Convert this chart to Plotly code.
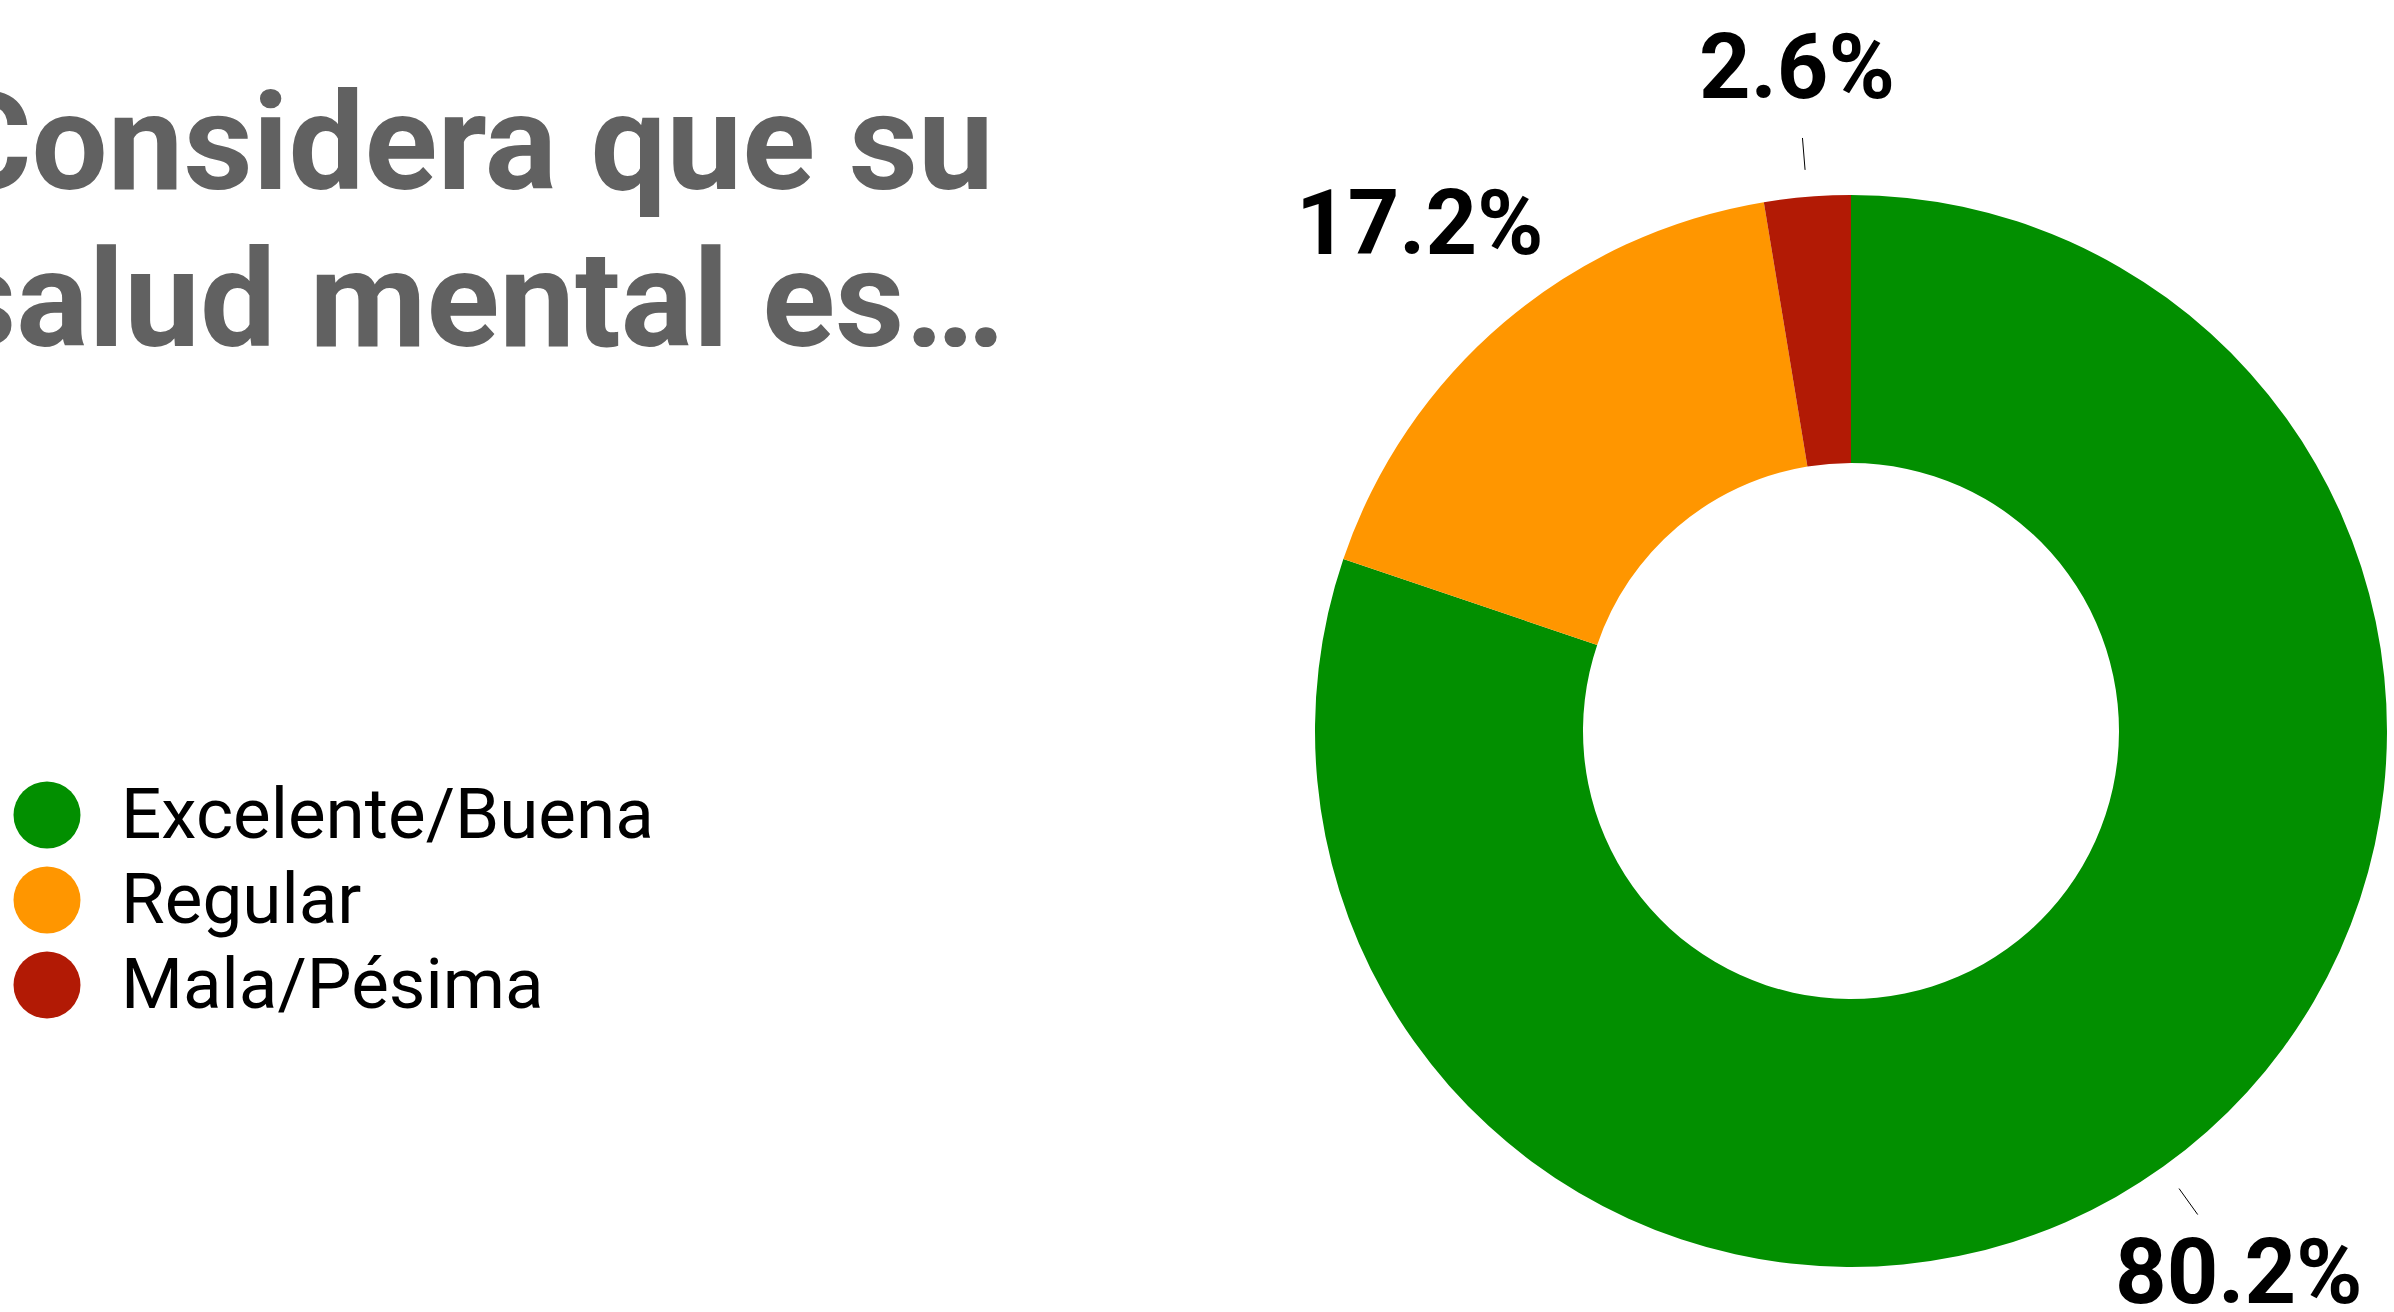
import math
import plotly.graph_objects as go

# Survey answers and their shares (%)
categories = ["Excelente/Buena", "Regular", "Mala/Pésima"]
shares = [80.2, 17.2, 2.6]
title_lines = ["¿Considera que su", "salud mental es…"]

colors = ["#028f00", "#ff9600", "#b21a05"]
leader = [True, False, True]

W, H = 2394, 1312
CX, CY, R = 1851, 731, 536          # donut centre / outer radius (px)
R_TEXT, R_L0, R_L1 = 666, 563, 595  # label radius, leader line span

fig = go.Figure()

# Donut
fig.add_trace(go.Pie(
    labels=categories, values=shares, hole=0.5, sort=False,
    direction="clockwise", rotation=0,
    marker=dict(colors=colors, line=dict(width=0)),
    textinfo="none", hoverinfo="label+percent", showlegend=False,
    domain=dict(x=[(CX - R) / W, (CX + R) / W],
                y=[1 - (CY + R) / H, 1 - (CY - R) / H]),
))

# Custom legend: big round swatches
rows = list(range(len(categories)))
fig.add_trace(go.Scatter(
    x=[0] * len(rows), y=rows, mode="markers",
    marker=dict(size=67, color=colors, line=dict(width=0)),
    hoverinfo="skip", showlegend=False,
))


def to_paper(px, py):
    return px / W, 1 - py / H


annotations = []
shapes = []

# Legend labels next to the swatches
for row, name in zip(rows, categories):
    annotations.append(dict(
        x=1, y=row, xref="x", yref="y", showarrow=False, text=name,
        xanchor="left", yanchor="middle", yshift=2,
        font=dict(family="Roboto", size=71, color="#000000"),
    ))

# Percentage labels around the ring
total = sum(shares)
cum = 0.0
for v, lead in zip(shares, leader):
    theta = (cum + v / 2) / total * 2 * math.pi
    cum += v
    s, c = math.sin(theta), math.cos(theta)
    tx, ty = to_paper(CX + R_TEXT * s, CY - R_TEXT * c)
    annotations.append(dict(
        x=tx, y=ty, xref="paper", yref="paper", showarrow=False,
        text=f"{v:.1f}%", xanchor="center", yanchor="middle",
        font=dict(family="Roboto", size=90, color="#000000", weight="bold"),
    ))
    if lead:
        x0, y0 = to_paper(CX + R_L0 * s, CY - R_L0 * c)
        x1, y1 = to_paper(CX + R_L1 * s, CY - R_L1 * c)
        shapes.append(dict(type="line", xref="paper", yref="paper",
                           x0=x0, y0=y0, x1=x1, y1=y1,
                           line=dict(color="#000000", width=1)))

# Title, two right-aligned lines
for line, px, py in zip(title_lines, [996, 1006], [143, 300]):
    annotations.append(dict(
        x=px / W, y=1 - py / H, xref="paper", yref="paper", showarrow=False,
        text=line, xanchor="right", yanchor="middle",
        font=dict(family="Roboto", size=135, color="#616161", weight="bold"),
    ))

# Axes hosting the legend swatches (px-aligned layout)
X0, UNIT, AX_W = 47, 72, 0.3 * W
ROW0, ROW_GAP = 815, 85
fig.update_layout(
    width=W, height=H,
    margin=dict(l=0, r=0, t=0, b=0),
    paper_bgcolor="white", plot_bgcolor="rgba(0,0,0,0)",
    xaxis=dict(domain=[0, 0.3], range=[-X0 / UNIT, (AX_W - X0) / UNIT],
               visible=False, fixedrange=True),
    yaxis=dict(domain=[0, 1], range=[(H - ROW0) / ROW_GAP, -ROW0 / ROW_GAP],
               visible=False, fixedrange=True),
    annotations=annotations, shapes=shapes,
    hovermode=False,
)

fig.write_html("out.html")
